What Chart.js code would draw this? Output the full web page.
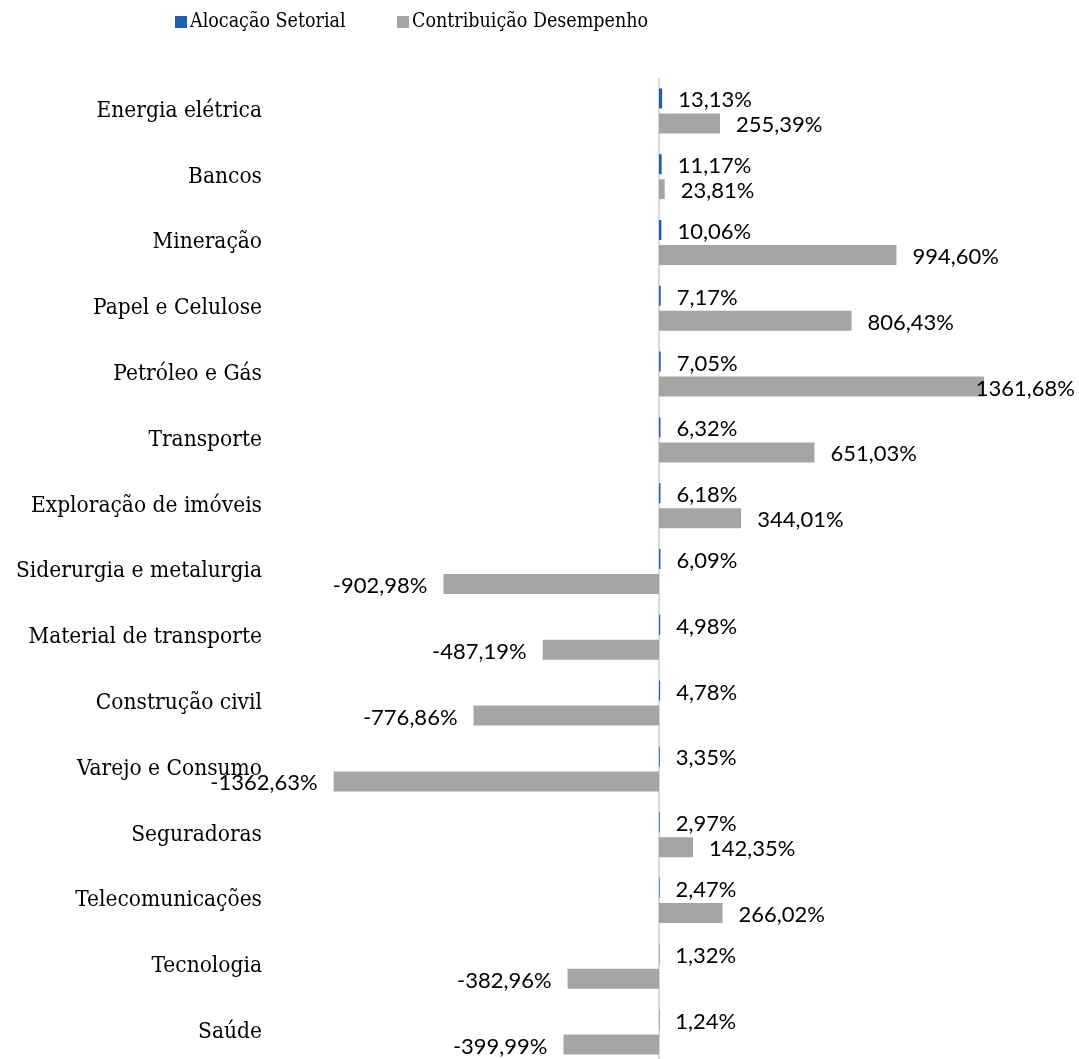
<!DOCTYPE html>
<html>
<head>
<meta charset="utf-8">
<script src="https://cdn.jsdelivr.net/npm/chart.js@4/dist/chart.umd.min.js"></script>
<style>
  html, body { margin: 0; padding: 0; background: #fff; overflow: hidden; width: 1079px; height: 1059px; }
  canvas { display: block; }
</style>
</head>
<body>
<canvas id="c" width="1079" height="1066"></canvas>
<script>
// Sectors, in display order (top to bottom)
const categories = [
  'Energia elétrica', 'Bancos', 'Mineração', 'Papel e Celulose', 'Petróleo e Gás',
  'Transporte', 'Exploração de imóveis', 'Siderurgia e metalurgia', 'Material de transporte',
  'Construção civil', 'Varejo e Consumo', 'Seguradoras', 'Telecomunicações', 'Tecnologia', 'Saúde'
];
// Sector allocation (%)
const alocacao = [13.13, 11.17, 10.06, 7.17, 7.05, 6.32, 6.18, 6.09, 4.98, 4.78, 3.35, 2.97, 2.47, 1.32, 1.24];
// Performance contribution (%)
const contribuicao = [255.39, 23.81, 994.60, 806.43, 1361.68, 651.03, 344.01, -902.98, -487.19, -776.86, -1362.63, 142.35, 266.02, -382.96, -399.99];
const seriesNames = ['Alocação Setorial', 'Contribuição Desempenho'];

const BLUE = '#1f5eb0';
const GRAY = '#a5a5a5';
const LABEL_FONT = '"DejaVu Serif Condensed", "DejaVu Serif", "Liberation Serif", serif';
const VALUE_FONT = 'Lato, "Open Sans", sans-serif';

const fmt = v => v.toFixed(2).replace('.', ',') + '%';

// Vertical line at zero on the value axis
const zeroLine = {
  id: 'zeroLine',
  beforeDatasetsDraw(chart) {
    const { ctx, chartArea, scales } = chart;
    const x = Math.round(scales.x.getPixelForValue(0));
    ctx.save();
    ctx.strokeStyle = '#d9d9d9';
    ctx.lineWidth = 2;
    ctx.beginPath();
    ctx.moveTo(x, chartArea.top);
    ctx.lineTo(x, chartArea.bottom);
    ctx.stroke();
    ctx.restore();
  }
};

// Value labels beside each bar end
const valueLabels = {
  id: 'valueLabels',
  afterDatasetsDraw(chart) {
    const ctx = chart.ctx;
    ctx.save();
    ctx.font = '22px ' + VALUE_FONT;
    ctx.fillStyle = '#000';
    ctx.textBaseline = 'middle';
    ctx.textAlign = 'left';
    chart.data.datasets.forEach((ds, di) => {
      const meta = chart.getDatasetMeta(di);
      meta.data.forEach((bar, i) => {
        const v = ds.data[i];
        const txt = fmt(v);
        const w = ctx.measureText(txt).width;
        let x;
        if (v >= 0) {
          x = bar.x + 16;
          if (x + w > chart.width - 4) x = chart.width - 4 - w;
        } else {
          x = bar.x - 16 - w;
        }
        ctx.fillText(txt, x, bar.y + 2);
      });
    });
    ctx.restore();
  }
};

// Legend row at the top
const topLegend = {
  id: 'topLegend',
  afterDraw(chart) {
    const ctx = chart.ctx;
    ctx.save();
    ctx.font = '19.5px ' + LABEL_FONT;
    ctx.textBaseline = 'middle';
    ctx.textAlign = 'left';
    const starts = [175, 397];
    chart.data.datasets.forEach((ds, di) => {
      const x = starts[di];
      ctx.fillStyle = ds.backgroundColor;
      ctx.fillRect(x, 16, 12, 12);
      ctx.fillStyle = '#000';
      ctx.fillText(ds.label, x + 15, 22);
    });
    ctx.restore();
  }
};

new Chart(document.getElementById('c'), {
  type: 'bar',
  data: {
    labels: categories,
    datasets: [
      { label: seriesNames[0], data: alocacao, backgroundColor: BLUE },
      { label: seriesNames[1], data: contribuicao, backgroundColor: GRAY }
    ]
  },
  options: {
    indexAxis: 'y',
    responsive: false,
    animation: false,
    devicePixelRatio: 1,
    categoryPercentage: 0.76,
    barPercentage: 0.8,
    layout: { padding: { top: 78, right: 38, bottom: 1, left: 0 } },
    plugins: {
      legend: { display: false },
      tooltip: { enabled: false }
    },
    scales: {
      x: {
        display: false,
        min: -1600,
        max: 1600
      },
      y: {
        border: { display: false },
        grid: { display: false, drawTicks: false },
        ticks: {
          color: '#000',
          padding: 15,
          font: { family: LABEL_FONT, size: 22.5 }
        },
        afterFit: s => { s.width = 277; s.paddingTop = 0; s.paddingBottom = 0; }
      }
    }
  },
  plugins: [zeroLine, valueLabels, topLegend]
});
</script>
</body>
</html>
